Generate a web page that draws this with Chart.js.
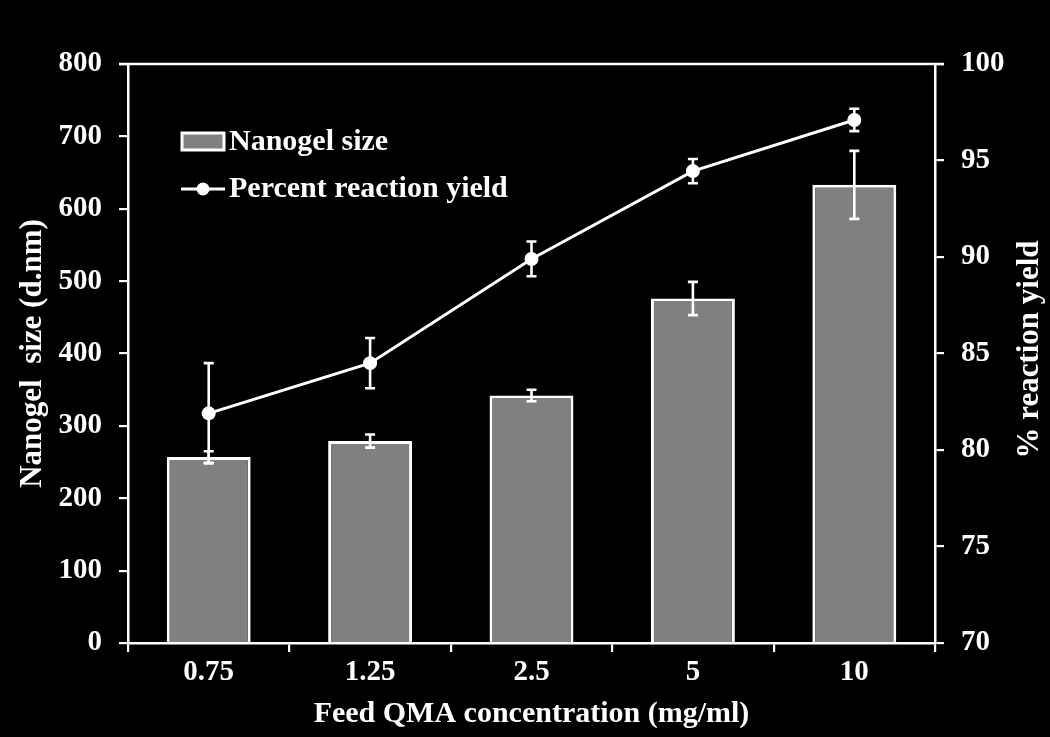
<!DOCTYPE html>
<html>
<head>
<meta charset="utf-8">
<script src="https://cdn.jsdelivr.net/npm/chart.js@4/dist/chart.umd.min.js"></script>
<style>
  html, body { margin: 0; padding: 0; background: #000; }
  #wrap { width: 1050px; height: 737px; }
</style>
</head>
<body>
<div id="wrap"><canvas id="c" width="1050" height="737"></canvas></div>
<script>
const categories = ['0.75', '1.25', '2.5', '5', '10'];
const sizeValues = [257, 279, 342, 476, 633];
const sizeErrors = [8, 9, 8, 23, 47];
const yieldValues = [81.9, 84.5, 89.9, 94.45, 97.1];
const yieldErrors = [2.6, 1.3, 0.9, 0.63, 0.58];
const leftTicks = [0, 100, 200, 300, 400, 500, 600, 700, 800];
const rightTicks = [70, 75, 80, 85, 90, 95, 100];

const FONT = "'Liberation Serif', 'Times New Roman', serif";
const WHITE = '#ffffff';

const errorBarPlugin = {
  id: 'errorBars',
  afterDatasetDraw(chart, args) {
    const ds = chart.data.datasets[args.index];
    if (!ds.errors) return;
    const meta = args.meta;
    const scale = chart.scales[ds.yAxisID];
    const ctx = chart.ctx;
    ctx.save();
    ctx.strokeStyle = WHITE;
    ctx.lineWidth = 2.6;
    meta.data.forEach((el, i) => {
      const v = ds.data[i], e = ds.errors[i];
      const x = el.x;
      const yTop = scale.getPixelForValue(v + e);
      const yBot = scale.getPixelForValue(v - e);
      ctx.beginPath();
      ctx.moveTo(x, yTop); ctx.lineTo(x, yBot);
      ctx.moveTo(x - 5, yTop); ctx.lineTo(x + 5, yTop);
      ctx.moveTo(x - 5, yBot); ctx.lineTo(x + 5, yBot);
      ctx.stroke();
    });
    ctx.restore();
  }
};

const framePlugin = {
  id: 'frame',
  afterDraw(chart) {
    const {ctx, chartArea} = chart;
    ctx.save();
    // top border
    ctx.strokeStyle = WHITE;
    ctx.lineWidth = 2.5;
    ctx.beginPath();
    ctx.moveTo(chartArea.left - 9, chartArea.top);
    ctx.lineTo(chartArea.right + 9, chartArea.top);
    ctx.stroke();

    // right axis title (reads bottom to top)
    ctx.fillStyle = WHITE;
    ctx.font = "bold 31px " + FONT;
    ctx.textAlign = 'center';
    ctx.textBaseline = 'middle';
    ctx.translate(1030, (chartArea.top + chartArea.bottom) / 2 - 4);
    ctx.rotate(-Math.PI / 2);
    ctx.fillText('% reaction yield', 0, 0);
    ctx.restore();

    // legend
    const barDs = chart.data.datasets.find(d => d.type === 'bar');
    const lineDs = chart.data.datasets.find(d => d.type === 'line');
    ctx.save();
    ctx.fillStyle = barDs.backgroundColor;
    ctx.fillRect(182, 133, 42, 17);
    ctx.strokeStyle = WHITE;
    ctx.lineWidth = 3;
    ctx.strokeRect(182, 133, 42, 17);
    ctx.beginPath();
    ctx.moveTo(181, 189); ctx.lineTo(225, 189);
    ctx.stroke();
    ctx.beginPath();
    ctx.arc(203, 189, 6.5, 0, Math.PI * 2);
    ctx.fillStyle = WHITE;
    ctx.fill();
    ctx.font = "bold 30px " + FONT;
    ctx.textAlign = 'left';
    ctx.textBaseline = 'middle';
    ctx.fillText(barDs.label, 229, 142);
    ctx.fillText(lineDs.label, 229, 189);
    ctx.restore();
  }
};

new Chart(document.getElementById('c'), {
  data: {
    labels: categories,
    datasets: [
      {
        type: 'line',
        label: 'Percent reaction yield',
        data: yieldValues,
        errors: yieldErrors,
        yAxisID: 'y1',
        borderColor: WHITE,
        backgroundColor: WHITE,
        borderWidth: 3,
        pointRadius: 7,
        pointBackgroundColor: WHITE,
        pointBorderWidth: 0,
        tension: 0,
        order: 0
      },
      {
        type: 'bar',
        label: 'Nanogel size',
        data: sizeValues,
        errors: sizeErrors,
        yAxisID: 'y',
        backgroundColor: '#808080',
        borderColor: WHITE,
        borderWidth: 3,
        barPercentage: 0.52,
        categoryPercentage: 1.0,
        order: 1
      }
    ]
  },
  options: {
    responsive: false,
    animation: false,
    devicePixelRatio: 1,
    layout: { padding: { top: 64, left: 0, right: 0, bottom: 0 } },
    plugins: {
      legend: { display: false },
      tooltip: { enabled: false }
    },
    scales: {
      x: {
        type: 'category',
        offset: true,
        grid: { display: true, offset: true, drawOnChartArea: false, drawTicks: true, tickLength: 9, color: WHITE, lineWidth: 2.2 },
        border: { display: true, color: WHITE, width: 2.5 },
        ticks: { color: WHITE, padding: 3, font: { family: FONT, size: 29, weight: 'bold' }, maxRotation: 0 },
        title: { display: true, text: 'Feed QMA concentration (mg/ml)', color: WHITE, font: { family: FONT, size: 30, weight: 'bold' }, padding: { top: 0, bottom: 5 } },
        afterFit(s) { s.height = 94; }
      },
      y: {
        type: 'linear',
        position: 'left',
        min: 0, max: 800,
        afterBuildTicks(s) { s.ticks = leftTicks.map(v => ({ value: v })); },
        grid: { display: true, drawOnChartArea: false, drawTicks: true, tickLength: 9, color: WHITE, lineWidth: 2.2 },
        border: { display: true, color: WHITE, width: 2.5 },
        ticks: { color: WHITE, padding: 17, font: { family: FONT, size: 29, weight: 'bold' } },
        title: { display: true, text: 'Nanogel  size (d.nm)', color: WHITE, font: { family: FONT, size: 31, weight: 'bold' }, padding: { top: 14, bottom: 0 } },
        afterFit(s) { s.width = 128; }
      },
      y1: {
        type: 'linear',
        position: 'right',
        min: 70, max: 100,
        afterBuildTicks(s) { s.ticks = rightTicks.map(v => ({ value: v })); },
        grid: { display: true, drawOnChartArea: false, drawTicks: true, tickLength: 9, color: WHITE, lineWidth: 2.2 },
        border: { display: true, color: WHITE, width: 2.5 },
        ticks: { color: WHITE, padding: 17, font: { family: FONT, size: 29, weight: 'bold' } },
        afterFit(s) { s.width = 115; }
      }
    }
  },
  plugins: [errorBarPlugin, framePlugin]
});
</script>
</body>
</html>
